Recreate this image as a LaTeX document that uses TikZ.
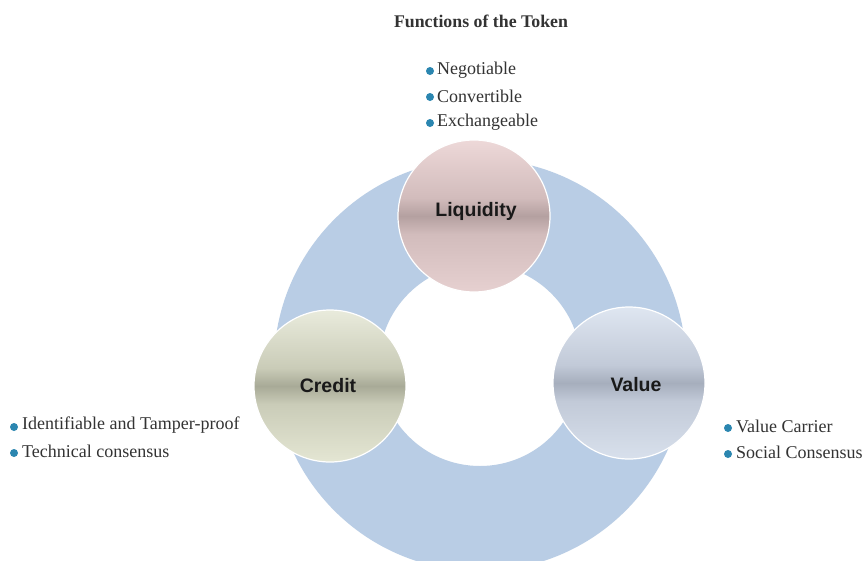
\documentclass[tikz,border=0pt]{standalone}
\usepackage{fontspec}
\setmainfont{Liberation Serif}
\newfontfamily\lblfont{Liberation Sans}
\definecolor{ringblue}{HTML}{B9CDE5}
\definecolor{bulletblue}{HTML}{2B86B0}
\definecolor{txtgray}{HTML}{333333}
% bottom (0bp) -> top (100bp)
\definecolor{liqA}{HTML}{E6D0D0}
\definecolor{liqB}{HTML}{D2BCBC}
\definecolor{liqC}{HTML}{B4A0A0}
\definecolor{liqD}{HTML}{EDD8D8}
\definecolor{credA}{HTML}{E4E6D3}
\definecolor{credB}{HTML}{CACCB8}
\definecolor{credC}{HTML}{A8AA97}
\definecolor{credD}{HTML}{E9EBDC}
\definecolor{valA}{HTML}{D8E0EC}
\definecolor{valB}{HTML}{C2CAD8}
\definecolor{valC}{HTML}{A6AEBD}
\definecolor{valD}{HTML}{DFE6F1}
\pgfdeclareverticalshading{liqshade}{100bp}{color(0bp)=(liqA); color(25bp)=(liqA); color(44bp)=(liqB); color(50bp)=(liqC); color(56bp)=(liqB); color(75bp)=(liqD); color(100bp)=(liqD)}
\pgfdeclareverticalshading{credshade}{100bp}{color(0bp)=(credA); color(25bp)=(credA); color(44bp)=(credB); color(50bp)=(credC); color(56bp)=(credB); color(75bp)=(credD); color(100bp)=(credD)}
\pgfdeclareverticalshading{valshade}{100bp}{color(0bp)=(valA); color(25bp)=(valA); color(44bp)=(valB); color(50bp)=(valC); color(56bp)=(valB); color(75bp)=(valD); color(100bp)=(valD)}
\tikzset{
  bigcircle/.style={circle, draw=white, line width=1.2pt, minimum size=152pt, inner sep=0pt},
  circlabel/.style={font=\lblfont\bfseries\fontsize{19.5}{22}\selectfont, text=black!90, inner sep=0pt},
  itemtext/.style={anchor=west, font=\fontsize{18}{20}\selectfont, text=txtgray, inner sep=0pt},
  bulletdot/.style={circle, fill=bulletblue, minimum size=8pt, inner sep=0pt},
  titletext/.style={font=\bfseries\fontsize{17.8}{20}\selectfont, text=txtgray, inner sep=0pt}
}
\begin{document}
\begin{tikzpicture}[x=1pt,y=-1pt]
\useasboundingbox (0,0) rectangle (862,560);
\fill[white] (0,0) rectangle (862,560);
\coordinate (rc) at (480,365);
\begin{scope}
\clip (0,0) rectangle (862,560);
\fill[ringblue, even odd rule] (rc) circle (206) (rc) circle (101);
\end{scope}
\node[titletext] (title) at (481,21) {Functions of the Token};
% circles
\node[bigcircle, shading=liqshade] (liq) at (474,216) {};
\node[bigcircle, shading=credshade] (cred) at (330,386) {};
\node[bigcircle, shading=valshade] (val) at (629,383) {};
\node[circlabel] (liqlbl) at (476,211) {Liquidity};
\node[circlabel] (credlbl) at (328,386) {Credit};
\node[circlabel] (vallbl) at (636,385) {Value};
% liquidity items
\node[bulletdot] (b1) at (430,71) {};
\node[itemtext] (t1) at (437,70) {Negotiable};
\node[bulletdot] (b2) at (430,97) {};
\node[itemtext] (t2) at (437,96) {Convertible};
\node[bulletdot] (b3) at (430,123) {};
\node[itemtext] (t3) at (437,122) {Exchangeable};
% credit items
\node[bulletdot] (b4) at (14,427) {};
\node[itemtext] (t4) at (22,425) {Identifiable and Tamper-proof};
\node[bulletdot] (b5) at (14,453) {};
\node[itemtext] (t5) at (22,451) {Technical consensus};
% value items
\node[bulletdot] (b6) at (728,428) {};
\node[itemtext] (t6) at (736,426) {Value Carrier};
\node[bulletdot] (b7) at (728,454) {};
\node[itemtext] (t7) at (736,452) {Social Consensus};
\end{tikzpicture}
\end{document}
